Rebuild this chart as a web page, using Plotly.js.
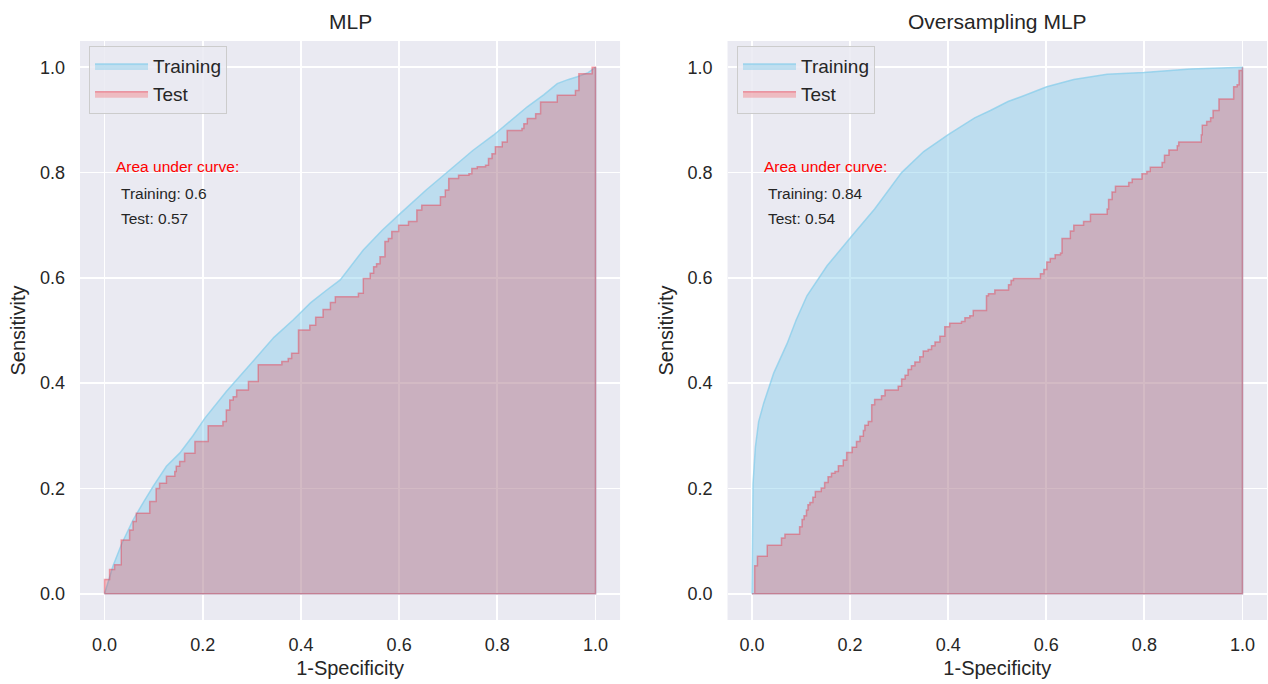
<!DOCTYPE html>
<html>
<head>
<meta charset="utf-8">
<script src="https://cdn.plot.ly/plotly-3.0.1.min.js"></script>
<style>
  html, body { margin: 0; padding: 0; background: #ffffff; }
  #chart { width: 1268px; height: 684px; }
</style>
</head>
<body>
<div id="chart"></div>
<script>
// ---------- Data ----------
const panelTitles = ["MLP", "Oversampling MLP"];
const seriesNames = ["Training", "Test"];
const tickValues = [0, 0.2, 0.4, 0.6, 0.8, 1.0];

// Left panel: MLP
const mlpTrainX = [0, 0.008, 0.017, 0.035, 0.058, 0.08, 0.099, 0.126, 0.153, 0.18, 0.204, 0.248, 0.28, 0.31, 0.345, 0.384, 0.42, 0.45, 0.48, 0.527, 0.565, 0.602, 0.655, 0.711, 0.75, 0.792, 0.83, 0.861, 0.895, 0.922, 0.945, 0.963, 0.985, 1];
const mlpTrainY = [0, 0.025, 0.052, 0.095, 0.14, 0.175, 0.204, 0.242, 0.267, 0.3, 0.333, 0.384, 0.418, 0.45, 0.487, 0.52, 0.553, 0.575, 0.596, 0.653, 0.69, 0.722, 0.767, 0.811, 0.842, 0.871, 0.9, 0.925, 0.948, 0.969, 0.977, 0.982, 0.99, 1.0];
const mlpTestX = [0, 0, 0.0102, 0.0204, 0.034, 0.051, 0.058, 0.0646, 0.092, 0.105, 0.112, 0.126, 0.143, 0.146, 0.153, 0.163, 0.184, 0.211, 0.241, 0.248, 0.255, 0.262, 0.269, 0.293, 0.313, 0.361, 0.374, 0.381, 0.395, 0.418, 0.43, 0.445, 0.46, 0.47, 0.517, 0.527, 0.541, 0.548, 0.554, 0.561, 0.571, 0.578, 0.585, 0.599, 0.619, 0.636, 0.646, 0.684, 0.694, 0.701, 0.721, 0.742, 0.748, 0.759, 0.776, 0.782, 0.789, 0.796, 0.81, 0.82, 0.85, 0.854, 0.861, 0.878, 0.888, 0.922, 0.959, 0.966, 0.993, 1];
const mlpTestY = [0, 0.027, 0.046, 0.055, 0.102, 0.121, 0.137, 0.153, 0.175, 0.2, 0.21, 0.223, 0.232, 0.242, 0.251, 0.267, 0.289, 0.319, 0.327, 0.349, 0.368, 0.374, 0.387, 0.403, 0.435, 0.441, 0.447, 0.457, 0.501, 0.51, 0.525, 0.54, 0.553, 0.564, 0.571, 0.599, 0.609, 0.621, 0.627, 0.64, 0.669, 0.675, 0.688, 0.7, 0.707, 0.729, 0.738, 0.754, 0.767, 0.789, 0.795, 0.798, 0.808, 0.811, 0.814, 0.827, 0.836, 0.849, 0.858, 0.88, 0.884, 0.893, 0.903, 0.912, 0.934, 0.947, 0.956, 0.988, 1.0, 1.0];
const mlpAuc = { training: "0.6", test: "0.57" };

// Right panel: Oversampling MLP
const overTrainX = [0, 0.001, 0.002, 0.0068, 0.0135, 0.0238, 0.0442, 0.0714, 0.09, 0.112, 0.153, 0.203, 0.25, 0.305, 0.35, 0.4, 0.454, 0.486, 0.522, 0.554, 0.601, 0.656, 0.724, 0.799, 0.894, 1];
const overTrainY = [0, 0.08, 0.208, 0.278, 0.327, 0.362, 0.419, 0.475, 0.52, 0.566, 0.623, 0.679, 0.731, 0.8, 0.84, 0.872, 0.904, 0.918, 0.935, 0.946, 0.963, 0.977, 0.987, 0.99, 0.997, 1];
const overTestX = [0, 0.0054, 0.011, 0.031, 0.06, 0.067, 0.097, 0.102, 0.106, 0.111, 0.114, 0.118, 0.124, 0.129, 0.141, 0.148, 0.155, 0.162, 0.169, 0.176, 0.186, 0.193, 0.204, 0.213, 0.22, 0.227, 0.23, 0.237, 0.244, 0.25, 0.264, 0.271, 0.298, 0.305, 0.312, 0.318, 0.325, 0.332, 0.342, 0.349, 0.359, 0.366, 0.373, 0.383, 0.393, 0.403, 0.427, 0.434, 0.444, 0.451, 0.478, 0.482, 0.495, 0.523, 0.528, 0.533, 0.588, 0.595, 0.601, 0.608, 0.618, 0.629, 0.632, 0.649, 0.656, 0.676, 0.69, 0.724, 0.727, 0.734, 0.741, 0.768, 0.775, 0.795, 0.805, 0.812, 0.836, 0.841, 0.85, 0.867, 0.87, 0.916, 0.918, 0.927, 0.935, 0.94, 0.952, 0.982, 0.989, 0.993, 1];
const overTestY = [0, 0.053, 0.071, 0.092, 0.106, 0.113, 0.127, 0.141, 0.148, 0.159, 0.169, 0.173, 0.183, 0.194, 0.201, 0.211, 0.222, 0.229, 0.232, 0.243, 0.254, 0.268, 0.278, 0.289, 0.299, 0.31, 0.32, 0.327, 0.359, 0.369, 0.376, 0.387, 0.394, 0.408, 0.415, 0.426, 0.433, 0.44, 0.45, 0.461, 0.464, 0.471, 0.478, 0.489, 0.507, 0.514, 0.517, 0.524, 0.528, 0.538, 0.566, 0.57, 0.577, 0.587, 0.595, 0.599, 0.608, 0.616, 0.63, 0.637, 0.644, 0.647, 0.675, 0.689, 0.7, 0.707, 0.721, 0.731, 0.749, 0.763, 0.774, 0.781, 0.788, 0.798, 0.802, 0.81, 0.819, 0.833, 0.843, 0.851, 0.858, 0.872, 0.89, 0.897, 0.904, 0.918, 0.94, 0.963, 0.967, 0.994, 1.0];
const overAuc = { training: "0.84", test: "0.54" };

// ---------- Styling ----------
const TXT = "#262626";
const FONT = "Liberation Sans, Arial, sans-serif";
const trainFill = "rgba(135,206,235,0.45)";
const trainLine = "rgba(135,206,235,0.75)";
const testFill = "rgba(255,0,0,0.2)";
const testLine = "rgba(230,60,80,0.45)";

// close a region down to the baseline so its outline is drawn like the original
function closeToBaseline(xs, ys) {
  const last = xs[xs.length - 1];
  return { x: xs.concat([last, xs[0]]), y: ys.concat([0, 0]) };
}

function panelTraces(trX, trY, teX, teY, xa, ya, legendId) {
  const tr = closeToBaseline(trX, trY);
  const te = closeToBaseline(teX, teY);
  return [
    {
      type: "scatter", mode: "lines", x: tr.x, y: tr.y, xaxis: xa, yaxis: ya,
      name: seriesNames[0], legend: legendId,
      fill: "toself", fillcolor: trainFill,
      line: { color: trainLine, width: 1.5 }, hoverinfo: "skip"
    },
    {
      type: "scatter", mode: "lines", x: te.x, y: te.y, xaxis: xa, yaxis: ya,
      name: seriesNames[1], legend: legendId,
      fill: "toself", fillcolor: testFill,
      line: { color: testLine, width: 1.5, shape: "hv" }, hoverinfo: "skip"
    }
  ];
}

const data = []
  .concat(panelTraces(mlpTrainX, mlpTrainY, mlpTestX, mlpTestY, "x", "y", "legend"))
  .concat(panelTraces(overTrainX, overTrainY, overTestX, overTestY, "x2", "y2", "legend2"));

function axis(domain, anchor, titleText, isX) {
  return {
    domain: domain, anchor: anchor,
    range: [-0.05, 1.05], tickvals: tickValues, tickformat: ".1f",
    showgrid: true, gridcolor: "#ffffff", gridwidth: 1.8,
    zeroline: false, showline: false, ticks: "",
    ticklabelstandoff: isX ? 12 : 14,
    tickfont: { family: FONT, size: 18, color: TXT },
    title: { text: titleText, font: { family: FONT, size: 20, color: TXT }, standoff: isX ? 6 : 8 },
    fixedrange: true
  };
}

function aucNotes(xref, yref, auc) {
  return [
    { xref: xref, yref: yref, x: 0.02, y: 0.812, xanchor: "left", yanchor: "middle", showarrow: false,
      text: "Area under curve:", font: { family: FONT, size: 15.5, color: "#ff0000" } },
    { xref: xref, yref: yref, x: 0.029, y: 0.761, xanchor: "left", yanchor: "middle", showarrow: false,
      text: "Training: " + auc.training, font: { family: FONT, size: 15.5, color: TXT } },
    { xref: xref, yref: yref, x: 0.029, y: 0.712, xanchor: "left", yanchor: "middle", showarrow: false,
      text: "Test: " + auc.test, font: { family: FONT, size: 15.5, color: TXT } }
  ];
}

const legendStyle = {
  bgcolor: "rgba(234,234,242,0.85)", bordercolor: "#cccccc", borderwidth: 1,
  font: { family: FONT, size: 19, color: TXT },
  xanchor: "left", yanchor: "top", tracegroupgap: 0, itemwidth: 53
};

const layout = {
  width: 1268, height: 684,
  margin: { l: 80, r: 1, t: 41, b: 64 },
  paper_bgcolor: "#ffffff", plot_bgcolor: "#eaeaf2",
  font: { family: FONT, color: TXT },
  xaxis: axis([0, 0.455], "y", "1-Specificity", true),
  yaxis: axis([0, 1], "x", "Sensitivity", false),
  xaxis2: axis([0.5455, 1], "y2", "1-Specificity", true),
  yaxis2: axis([0, 1], "x2", "Sensitivity", false),
  legend: Object.assign({ x: 0.0076, y: 0.991 }, legendStyle),
  legend2: Object.assign({ x: 0.5535, y: 0.991 }, legendStyle),
  showlegend: true,
  annotations: [
    { xref: "x domain", yref: "paper", x: 0.5, y: 1, xanchor: "center", yanchor: "bottom", yshift: 6,
      showarrow: false, text: panelTitles[0], font: { family: FONT, size: 21, color: TXT } },
    { xref: "x2 domain", yref: "paper", x: 0.5, y: 1, xanchor: "center", yanchor: "bottom", yshift: 6,
      showarrow: false, text: panelTitles[1], font: { family: FONT, size: 21, color: TXT } }
  ].concat(aucNotes("x", "y", mlpAuc)).concat(aucNotes("x2", "y2", overAuc))
};

Plotly.newPlot("chart", data, layout, { displayModeBar: false, staticPlot: true });
</script>
</body>
</html>
